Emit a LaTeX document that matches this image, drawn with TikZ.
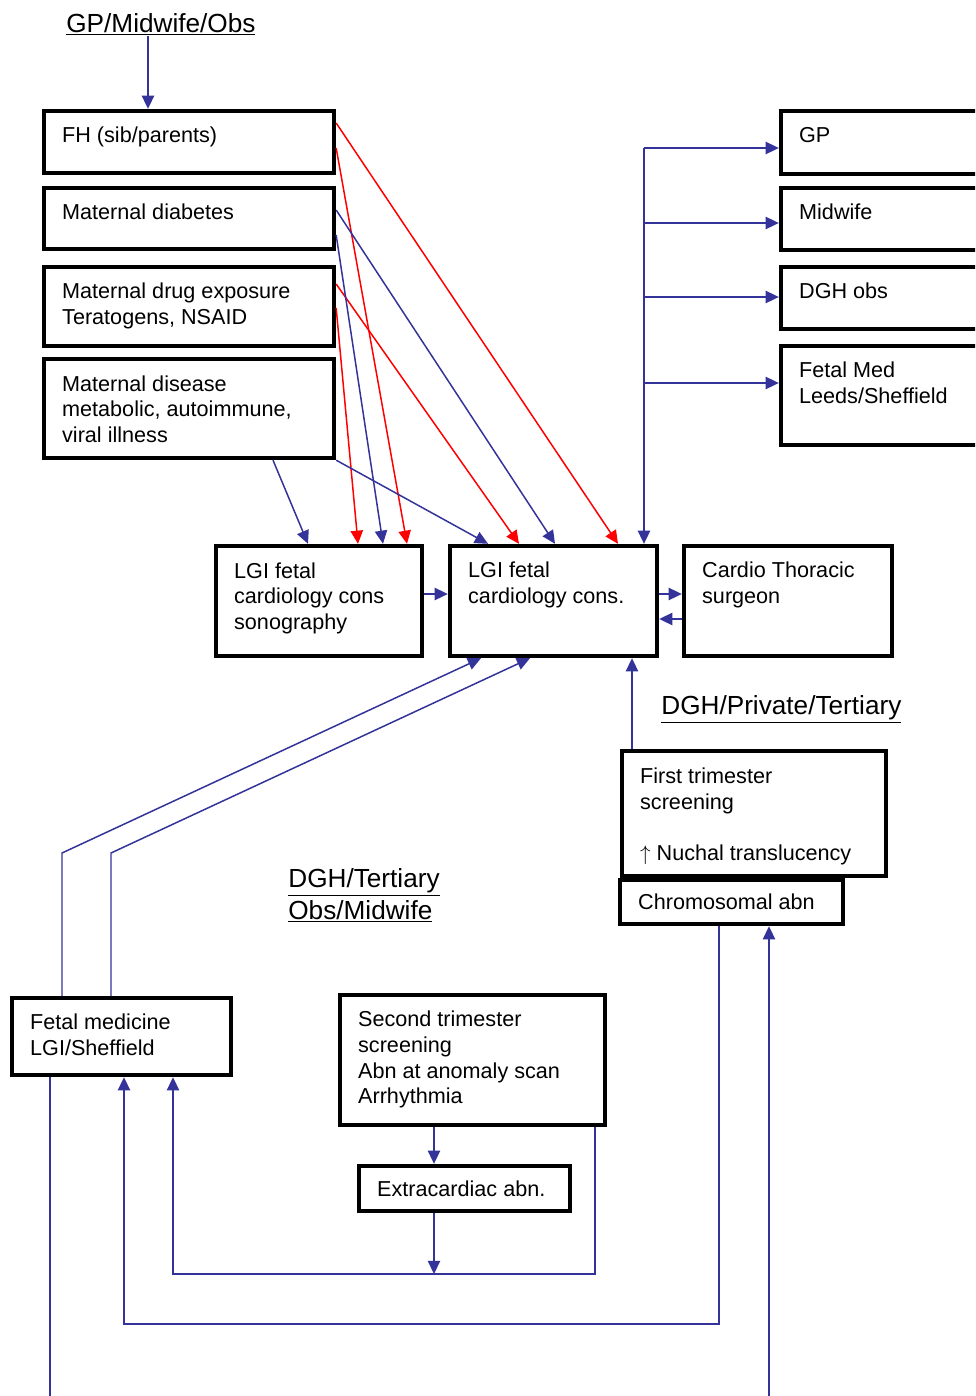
\documentclass[tikz,border=0pt]{standalone}
\usepackage{fontspec}
\setmainfont{Liberation Sans}
\usetikzlibrary{arrows.meta}

\definecolor{linkblue}{RGB}{51,51,153}
\newcommand{\boxfont}{\fontsize{12.3}{14.7}\selectfont}
\newcommand{\headfont}{\fontsize{14.9}{18.1}\selectfont}

\tikzset{
  box/.style={draw, line width=2.5pt, inner sep=0pt},
  boxtext/.style={anchor=base west, align=left, inner sep=0pt, font=\boxfont},
  heading/.style={anchor=base west, align=left, inner sep=0pt, font=\headfont},
  link/.style={draw=linkblue, line width=0.85pt, -{Triangle[length=7.5pt,width=7pt]}},
  redlink/.style={link, draw=red},
  wire/.style={draw=linkblue, line width=0.85pt},
}

\begin{document}
\begin{tikzpicture}[x=0.02cm, y=-0.02cm]
    \useasboundingbox (0,0) rectangle (975,1396);
    \clip (0,0) rectangle (975,1396);

    % --- Headings ---
    \node[heading] (hdgp) at (66,32) {\underline{GP/Midwife/Obs}};
    \node[heading] (hddgh) at (661,714) {\underline{DGH/Private/Tertiary}};
    \node[heading] (hdobs) at (288,919) {\underline{DGH/Tertiary}\\\underline{Obs/Midwife}};

    % --- Risk factors ---
    % (text nodes sit on the baseline of their last line)
    \node[box, minimum width=5.8cm, minimum height=1.24cm] (fh) at (189,142) {};
    \node[boxtext] (fh-t) at ([shift={(20,34)}]fh.north west) {FH (sib/parents)};
    \node[box, minimum width=5.8cm, minimum height=1.22cm] (diab) at (189,218.5) {};
    \node[boxtext] (diab-t) at ([shift={(20,34)}]diab.north west) {Maternal diabetes};
    \node[box, minimum width=5.8cm, minimum height=1.58cm] (drug) at (189,306.5) {};
    \node[boxtext] (drug-t) at ([shift={(20,60)}]drug.north west) {Maternal drug exposure\\Teratogens, NSAID};
    \node[box, minimum width=5.8cm, minimum height=1.98cm] (dis) at (189,408.5) {};
    \node[boxtext] (dis-t) at ([shift={(20,86)}]dis.north west) {Maternal disease\\metabolic, autoimmune,\\viral illness};

    % --- Referral destinations ---
    \node[box, minimum width=4.38cm, minimum height=1.26cm] (gp) at (890.5,142.5) {};
    \node[boxtext] (gp-t) at ([shift={(20,34)}]gp.north west) {GP};
    \node[box, minimum width=4.38cm, minimum height=1.24cm] (mw) at (890.5,219) {};
    \node[boxtext] (mw-t) at ([shift={(20,34)}]mw.north west) {Midwife};
    \node[box, minimum width=4.38cm, minimum height=1.24cm] (dgh) at (890.5,298) {};
    \node[boxtext] (dgh-t) at ([shift={(20,34)}]dgh.north west) {DGH obs};
    \node[box, minimum width=4.38cm, minimum height=1.98cm] (fmed) at (890.5,395.5) {};
    \node[boxtext] (fmed-t) at ([shift={(20,60)}]fmed.north west) {Fetal Med\\Leeds/Sheffield};

    % --- LGI cardiology ---
    \node[box, minimum width=4.12cm, minimum height=2.2cm] (sono) at (319,601) {};
    \node[boxtext] (sono-t) at ([shift={(20,86)}]sono.north west) {LGI fetal\\cardiology cons\\sonography};
    \node[box, minimum width=4.14cm, minimum height=2.2cm] (cons) at (553.5,601) {};
    \node[boxtext] (cons-t) at ([shift={(20,60)}]cons.north west) {LGI fetal\\cardiology cons.};
    \node[box, minimum width=4.16cm, minimum height=2.2cm] (cts) at (788,601) {};
    \node[boxtext] (cts-t) at ([shift={(20,60)}]cts.north west) {Cardio Thoracic\\surgeon};

    % --- Screening ---
    \node[box, minimum width=5.28cm, minimum height=2.5cm] (first) at (754,813.5) {};
    \node[boxtext] (first-t) at ([shift={(20,112)}]first.north west) {First trimester\\screening\\[14.7pt]$\uparrow$ Nuchal translucency};
    \node[box, minimum width=4.46cm, minimum height=0.88cm] (chrom) at (731.5,902) {};
    \node[boxtext] (chrom-t) at ([shift={(20,32)}]chrom.north west) {Chromosomal abn};
    \node[box, minimum width=4.38cm, minimum height=1.54cm] (fml) at (121.5,1036.5) {};
    \node[boxtext] (fml-t) at ([shift={(20,60)}]fml.north west) {Fetal medicine\\LGI/Sheffield};
    \node[box, minimum width=5.3cm, minimum height=2.6cm] (sec) at (472.5,1060) {};
    \node[boxtext] (sec-t) at ([shift={(20,111)}]sec.north west) {Second trimester\\screening\\Abn at anomaly scan\\Arrhythmia};
    \node[box, minimum width=4.22cm, minimum height=0.9cm] (extra) at (464.5,1188.5) {};
    \node[boxtext] (extra-t) at ([shift={(20,33)}]extra.north west) {Extracardiac abn.};

    % --- Connectors ---
    \draw[link] (hdgp.south -| 148,0) -- (fh.north -| 148,0);

    \draw[redlink] (fh.east |- 0,123) -- (cons.north -| 618,0);
    \draw[redlink] (fh.east |- 0,148) -- (sono.north -| 407,0);
    \draw[redlink] (drug.east |- 0,284) -- (cons.north -| 519,0);
    \draw[redlink] (drug.east |- 0,308) -- (sono.north -| 358,0);
    \draw[link] (diab.east |- 0,210) -- (cons.north -| 555,0);
    \draw[link] (diab.east |- 0,235) -- (sono.north -| 383,0);
    \draw[link] (dis.south -| 273,0) -- (sono.north -| 308,0);
    \draw[link] (dis.south east) -- (cons.north -| 488,0);

    % fan out to the referral boxes
    \coordinate (hub) at (644,148);
    \draw[link] (hub) -- (cons.north -| hub);
    \draw[link] (hub) -- (gp.west |- hub);
    \draw[link] (hub |- 0,223) -- (mw.west |- 0,223);
    \draw[link] (hub |- 0,297) -- (dgh.west |- 0,297);
    \draw[link] (hub |- 0,383) -- (fmed.west |- 0,383);

    \draw[link] (sono.east |- 0,594) -- (cons.west |- 0,594);
    \draw[link] (cons.east |- 0,594) -- (cts.west |- 0,594);
    \draw[link] (cts.west |- 0,619) -- (cons.east |- 0,619);
    \draw[link] (first.north -| 632,0) -- (cons.south -| 632,0);

    \draw[link] (fml.north -| 62,0) -- (62,853) -- (cons.south -| 481,0);
    \draw[link] (fml.north -| 111,0) -- (111,853) -- (cons.south -| 530,0);

    \coordinate (join) at (434,1274);
    \draw[link] (sec.south -| join) -- (extra.north -| join);
    \draw[link] (extra.south -| join) -- (join);
    \draw[link] (sec.south -| 595,0) -- (595,1274) -- (173,1274) -- (fml.south -| 173,0);
    \draw[link] (chrom.south -| 719,0) -- (719,1324) -- (124,1324) -- (fml.south -| 124,0);

    \coordinate (offl) at (50,1410);
    \coordinate (offr) at (769,1410);
    \draw[wire] (fml.south -| offl) -- (offl);
    \draw[link] (offr) -- (chrom.south -| offr);

\end{tikzpicture}
\end{document}
